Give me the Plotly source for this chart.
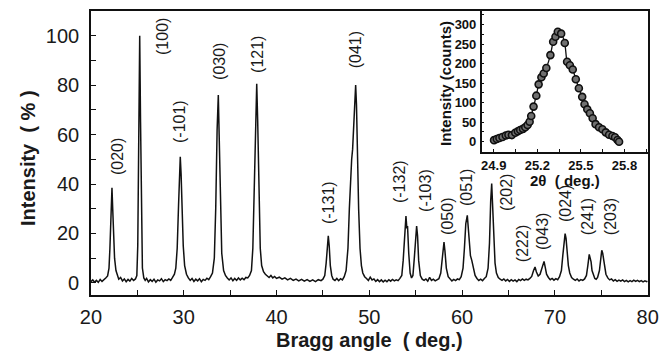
import plotly.graph_objects as go

# ---------------- main XRD pattern ----------------
two_theta = [
    20.0, 20.2, 20.4, 20.6, 20.8, 21.0, 21.2, 21.4, 21.6, 21.8,
    21.95, 22.05, 22.15, 22.27, 22.35, 22.45, 22.55, 22.7, 22.85, 23.0,
    23.2, 23.4, 23.6, 23.8, 24.0, 24.2, 24.4, 24.6, 24.8, 24.95,
    25.05, 25.15, 25.26, 25.35, 25.45, 25.55, 25.7, 25.85,
    26.0, 26.2, 26.4, 26.6, 26.8, 27.0, 27.2, 27.4, 27.6, 27.8, 28.0, 28.2, 28.4, 28.6, 28.8, 29.0, 29.15,
    29.3, 29.45, 29.55, 29.63, 29.72, 29.82, 29.95, 30.1, 30.3, 30.5,
    30.7, 30.9, 31.1, 31.3, 31.5, 31.7, 31.9, 32.1, 32.3, 32.5, 32.7, 32.9, 33.1,
    33.3, 33.45, 33.6, 33.73, 33.82, 33.95, 34.1, 34.3, 34.5, 34.7,
    34.9, 35.1, 35.3, 35.5, 35.7, 35.9, 36.1, 36.3, 36.5, 36.7, 36.9, 37.1, 37.3,
    37.45, 37.6, 37.75, 37.87, 37.97, 38.1, 38.25, 38.4, 38.6, 38.8,
    39.0, 39.2, 39.4, 39.6, 39.8, 40.0, 40.3, 40.6, 40.9, 41.2, 41.5, 41.8, 42.1, 42.4, 42.7, 43.0,
    43.3, 43.6, 43.9, 44.2, 44.5, 44.8, 45.0, 45.2,
    45.35, 45.48, 45.58, 45.68, 45.8, 45.95, 46.1, 46.3, 46.5, 46.7, 46.9, 47.1, 47.3, 47.5, 47.7,
    47.85, 48.0, 48.1, 48.2, 48.3, 48.42, 48.53, 48.62, 48.72, 48.85, 49.0, 49.15, 49.3, 49.5, 49.7,
    49.9, 50.1, 50.3, 50.5, 50.7, 50.9, 51.1, 51.3, 51.5, 51.7, 51.9, 52.1, 52.3, 52.5, 52.7, 52.9,
    53.1, 53.3, 53.5,
    53.65, 53.8, 53.95, 54.05, 54.12, 54.25, 54.4, 54.55, 54.7,
    54.85, 55.0, 55.1, 55.2, 55.32, 55.5, 55.7, 55.9, 56.1, 56.3, 56.5, 56.7, 56.9, 57.1, 57.3, 57.5, 57.7,
    57.85, 57.97, 58.05, 58.15, 58.3, 58.5, 58.7, 58.9, 59.1, 59.3, 59.5, 59.7, 59.9, 60.1,
    60.25, 60.4, 60.56, 60.65, 60.78, 60.9, 61.05, 61.2, 61.4, 61.6, 61.8, 62.0, 62.2, 62.4, 62.6, 62.8,
    62.95, 63.08, 63.19, 63.28, 63.4, 63.55, 63.7, 63.9, 64.1, 64.3, 64.5, 64.7, 64.9, 65.1, 65.3, 65.5,
    65.7, 65.9, 66.1, 66.3, 66.5, 66.7, 66.9, 67.1, 67.3, 67.5,
    67.7, 67.86, 68.0, 68.2, 68.4, 68.6,
    68.75, 68.83, 68.95, 69.1, 69.3, 69.5, 69.7, 69.9, 70.1, 70.3, 70.5, 70.7,
    70.85, 71.0, 71.1, 71.2, 71.32, 71.45, 71.6, 71.8, 72.0, 72.2, 72.4, 72.6, 72.8, 73.0, 73.2, 73.4,
    73.55, 73.7, 73.8, 73.9, 74.0, 74.15, 74.3, 74.45, 74.6, 74.8,
    74.95, 75.05, 75.15, 75.25, 75.35, 75.5, 75.7, 75.9, 76.1, 76.3, 76.5, 76.7, 76.9, 77.1, 77.3,
    77.5, 77.7, 77.9, 78.1, 78.3, 78.5, 78.7, 78.9, 79.1, 79.3, 79.5, 79.7, 79.9, 80.0,
]
intensity = [
    0.5, 1.2, 0.3, 1.0, 0.2, 1.4, 0.6, 1.5, 2.0, 2.8,
    6, 14, 28, 38.5, 30, 17, 10, 5, 3, 1.5,
    2.2, 0.8, 1.6, 0.5, 1.4, 0.7, 1.8, 1.0, 1.6, 3,
    15, 60, 100, 65, 20, 6, 2, 1.0,
    1.8, 0.4, 1.3, 0.6, 1.5, 0.3, 1.2, 0.8, 1.7, 0.5, 1.3, 0.9, 1.6, 1.0, 2.2, 3.5, 6,
    14, 32, 46, 51, 44, 30, 15, 7, 3.5, 2,
    1.0, 1.8, 0.6, 1.5, 0.8, 1.7, 0.5, 1.4, 1.0, 1.9, 1.3, 2.5, 4,
    10, 30, 62, 76, 60, 30, 12, 5, 3, 2,
    1.2, 2.0, 0.9, 1.8, 1.0, 2.0, 1.2, 1.9, 1.3, 2.2, 2.0, 3.0, 5,
    14, 40, 72, 80.6, 66, 35, 14, 7, 4.5, 3.5,
    3.0, 2.2, 3.0, 2.0, 2.6, 1.8, 2.3, 1.5, 2.0, 1.2, 1.8, 1.0, 1.5, 0.8, 1.4, 0.7,
    1.3, 0.6, 1.2, 0.5, 1.3, 0.9, 1.5, 3,
    8, 16, 19, 15, 7, 3, 1.5, 1.0, 1.8, 0.9, 1.7, 1.2, 2.5, 5, 14,
    30, 44, 50, 54, 62, 74, 80, 72, 52, 30, 14, 7, 4, 2.5, 1.8,
    1.0, 2.3, 1.2, 1.6, 0.6, 1.3, 0.5, 1.2, 0.4, 1.1, 0.5, 1.3, 0.7, 1.4, 0.8, 1.2,
    0.9, 1.8, 3,
    9, 20, 27, 22, 23, 12, 4, 2, 3,
    10, 20, 23, 19, 9, 3, 1.5, 1.0, 1.6, 0.7, 2.2, 1.0, 1.5, 0.8, 1.4, 1.7, 4,
    10, 15, 16.5, 13, 6, 2.5, 1.5, 0.8, 1.4, 0.9, 1.6, 1.3, 2.5, 6,
    14, 24, 27.3, 22, 14, 11, 9, 6, 3, 1.8, 1.0, 1.5, 0.9, 1.8, 2.5, 6,
    16, 33, 40.2, 32, 17, 8, 4, 2.2, 1.5, 1.0, 1.6, 0.8, 1.4, 0.6, 1.3, 0.7,
    1.2, 0.5, 1.4, 0.9, 1.6, 1.0, 1.5, 1.2, 1.8, 2.6,
    5, 6.4, 4.5, 2.8, 3.5, 6.5,
    8.5, 8.7, 6.5, 3.5, 2.2, 1.3, 1.8, 1.1, 1.7, 1.3, 2.5, 5,
    11, 17, 19.9, 18, 12, 7, 4, 2.2, 1.5, 1.0, 1.6, 0.8, 1.3, 1.0, 1.6, 3,
    7, 11.5, 10, 8.5, 5, 3, 1.8, 1.5, 2.2, 5,
    11, 13.2, 12, 10, 7, 3.5, 2.0, 1.2, 1.6, 0.8, 1.3, 0.6, 1.1, 0.7, 1.2,
    0.5, 1.0, 0.4, 0.9, 0.5, 1.1, 0.6, 1.0, 0.5, 0.9, 0.4, 0.8, 0.5, 0.7,
]

# ---------------- peak labels ----------------
peak_labels = ["(020)", "(100)", "(-101)", "(030)", "(121)", "(-131)", "(041)",
               "(-132)", "(-103)", "(050)", "(051)", "(202)", "(222)", "(043)",
               "(024)", "(241)", "(203)"]

# ---------------- inset: (100) peak profile ----------------
inset_two_theta = [24.902, 24.921, 24.939, 24.960, 24.983, 25.001, 25.025, 25.048, 25.066,
                   25.082, 25.101, 25.117, 25.133, 25.147, 25.158, 25.174, 25.193, 25.209,
                   25.228, 25.244, 25.262, 25.290, 25.309, 25.325, 25.341, 25.364, 25.389,
                   25.405, 25.424, 25.444, 25.465, 25.486, 25.509, 25.525, 25.544, 25.562,
                   25.581, 25.601, 25.625, 25.648, 25.671, 25.694, 25.717, 25.735, 25.752,
                   25.763]
inset_counts = [4, 7, 9.5, 12, 16, 18, 17, 23, 26.6,
                30, 33, 37, 43, 51, 66, 90, 118, 147,
                165, 175, 189, 222, 256, 269, 282, 277, 253,
                205, 196, 185, 160, 137, 115, 96, 83, 73,
                60, 45, 37, 32, 24, 18, 14.6, 11.3, 4.3,
                0]
inset_xticks = [24.9, 25.2, 25.5, 25.8]

# ---------------- layout constants ----------------
W, H = 663, 355
FONT = "Arial, Liberation Sans, sans-serif"
INK = "#111111"

# label positions (angle, intensity) for the rotated hkl labels
label_pos = [(22.81, 51.3), (27.77, 99.5), (29.60, 65.5), (33.91, 89.8), (37.89, 92.6),
             (45.55, 32.3), (48.46, 94.1), (53.20, 40.8), (56.11, 37.2), (58.48, 27.1),
             (60.53, 38.4), (64.84, 36.4), (66.46, 15.7), (68.72, 20.6), (71.09, 31.9),
             (73.46, 26.6), (75.94, 26.6)]

fig = go.Figure()
fig.add_trace(go.Scatter(x=two_theta, y=intensity, mode="lines",
                         line=dict(color=INK, width=1.5), xaxis="x", yaxis="y",
                         showlegend=False, hoverinfo="skip"))
fig.add_trace(go.Scatter(x=inset_two_theta, y=inset_counts, mode="lines+markers",
                         line=dict(color=INK, width=1.3, shape="spline", smoothing=0.6),
                         marker=dict(symbol="circle", size=7, color="#707070",
                                     line=dict(color="#101010", width=1.6)),
                         xaxis="x2", yaxis="y2", showlegend=False, hoverinfo="skip"))

main_x_dom = [90.9 / W, 647.7 / W]
main_y_dom = [(H - 294.5) / H, (H - 11) / H]
inset_x_dom = [481.7 / W, 647.7 / W]
inset_y_dom = [(H - 151.7) / H, (H - 11) / H]

axis_common = dict(showline=True, linecolor=INK, linewidth=1.5, showgrid=False,
                   zeroline=False, ticks="inside", tickcolor=INK, tickwidth=1.3,
                   automargin=False)

fig.update_layout(
    width=W, height=H,
    margin=dict(l=0, r=0, t=0, b=0, autoexpand=False),
    paper_bgcolor="white", plot_bgcolor="rgba(0,0,0,0)",
    xaxis=dict(domain=main_x_dom, range=[20, 80], anchor="y", mirror=True,
               tickvals=[20, 30, 40, 50, 60, 70, 80], ticklen=5,
               minor=dict(dtick=5, ticks="inside", ticklen=5, tickcolor=INK, tickwidth=1.3),
               tickfont=dict(family=FONT, size=20, color="#1a1a1a"),
               ticklabelstandoff=4, **axis_common),
    yaxis=dict(domain=main_y_dom, range=[-4.7, 110], anchor="x", mirror=True,
               tickvals=[0, 20, 40, 60, 80, 100], ticklen=5,
               minor=dict(dtick=10, ticks="inside", ticklen=5, tickcolor=INK, tickwidth=1.3),
               tickfont=dict(family=FONT, size=20, color="#1a1a1a"),
               ticklabelstandoff=6, **axis_common),
    xaxis2=dict(domain=inset_x_dom, range=[24.817, 25.96], anchor="y2",
                tickvals=inset_xticks, ticktext=[f"{v:.1f}" for v in inset_xticks], ticklen=3,
                minor=dict(dtick=0.15, tick0=24.9, ticks="inside", ticklen=3, tickcolor=INK),
                tickfont=dict(family=FONT, size=13, color=INK, weight="bold"),
                ticklabelstandoff=1, **axis_common),
    yaxis2=dict(domain=inset_y_dom, range=[-25.6, 335], anchor="x2",
                tickvals=[0, 50, 100, 150, 200, 250, 300], ticklen=3,
                minor=dict(dtick=25, ticks="inside", ticklen=3, tickcolor=INK),
                tickfont=dict(family=FONT, size=13, color=INK, weight="bold"),
                ticklabelstandoff=1, **axis_common),
)

annotations = []
for name, (ax_, ay_) in zip(peak_labels, label_pos):
    annotations.append(dict(x=ax_, y=ay_, xref="x", yref="y", text=name, textangle=-90,
                            showarrow=False, xanchor="center", yanchor="middle",
                            font=dict(family=FONT, size=16, color="#1a1a1a")))

# axis titles
annotations.append(dict(x=369 / W, y=(H - 340) / H, xref="paper", yref="paper",
                        text="<b>Bragg angle  ( deg.)</b>", showarrow=False,
                        xanchor="center", yanchor="middle",
                        font=dict(family=FONT, size=20, color="#1a1a1a")))
annotations.append(dict(x=28 / W, y=(H - 158) / H, xref="paper", yref="paper",
                        text="<b>Intensity  ( % )</b>", showarrow=False, textangle=-90,
                        xanchor="center", yanchor="middle",
                        font=dict(family=FONT, size=20, color="#1a1a1a")))
annotations.append(dict(x=445 / W, y=(H - 83) / H, xref="paper", yref="paper",
                        text="<b>Intensity (counts)</b>", showarrow=False, textangle=-90,
                        xanchor="center", yanchor="middle",
                        font=dict(family=FONT, size=15, color=INK)))
annotations.append(dict(x=565 / W, y=(H - 180) / H, xref="paper", yref="paper",
                        text="<b>2θ  ( deg.)</b>", showarrow=False,
                        xanchor="center", yanchor="middle",
                        font=dict(family=FONT, size=15, color=INK)))
fig.update_layout(annotations=annotations)

fig.write_html("out.html")
